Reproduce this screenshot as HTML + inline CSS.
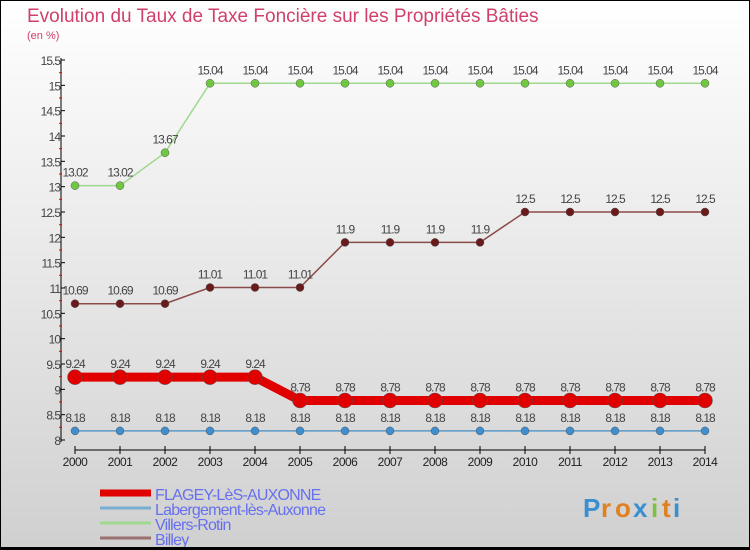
<!DOCTYPE html>
<html><head><meta charset="utf-8"><style>
body{margin:0}
#c{width:750px;height:550px;position:relative;background:linear-gradient(#fff,#d0d0d0);box-sizing:border-box;border:1px solid #000;border-bottom:3px solid #000;font-family:"Liberation Sans",sans-serif;overflow:hidden}
</style></head><body>
<div id="c">
<svg id="s" width="750" height="550" style="position:absolute;left:-1px;top:-1px"></svg>
</div>
<script>
const years=[2000,2001,2002,2003,2004,2005,2006,2007,2008,2009,2010,2011,2012,2013,2014];
const flagey=[9.24,9.24,9.24,9.24,9.24,8.78,8.78,8.78,8.78,8.78,8.78,8.78,8.78,8.78,8.78];
const labergement=[8.18,8.18,8.18,8.18,8.18,8.18,8.18,8.18,8.18,8.18,8.18,8.18,8.18,8.18,8.18];
const villers=[13.02,13.02,13.67,15.04,15.04,15.04,15.04,15.04,15.04,15.04,15.04,15.04,15.04,15.04,15.04];
const billey=[10.69,10.69,10.69,11.01,11.01,11.01,11.9,11.9,11.9,11.9,12.5,12.5,12.5,12.5,12.5];
const yTicks=[8,8.5,9,9.5,10,10.5,11,11.5,12,12.5,13,13.5,14,14.5,15,15.5];
const seriesNames=["FLAGEY-LèS-AUXONNE","Labergement-lès-Auxonne","Villers-Rotin","Billey"];
const NS="http://www.w3.org/2000/svg",s=document.getElementById('s');
const X=i=>75+i*45, Y=v=>440-(v-8)*50.667;
function el(t,a,txt){const e=document.createElementNS(NS,t);for(const k in a)e.setAttribute(k,a[k]);if(txt!=null)e.textContent=txt;s.appendChild(e);return e;}
let e;
e=el('text',{x:27,y:22,'font-size':19,fill:'#d0406a'},'Evolution du Taux de Taxe Foncière sur les Propriétés Bâties');


e=el('text',{x:27,y:39,'font-size':11,fill:'#d0406a'},'(en %)');


e=el('line',{x1:61,y1:58,x2:61,y2:442,stroke:'#000'});


yTicks.forEach((v,k)=>{
 const l=el('line',{x1:61,y1:Y(v),x2:65,y2:Y(v),stroke:'#000'});
 
 
 if(k<yTicks.length-1){
 const m=el('line',{x1:59,y1:Y(v+0.25),x2:62,y2:Y(v+0.25),stroke:'#e00'});
 
 
 }
 const t=el('text',{x:60,y:Y(v)+5,'font-size':12,'text-anchor':'end',fill:'#444','letter-spacing':'-1'},String(v));
 
 
});
e=el('line',{x1:75,y1:450,x2:705,y2:450,stroke:'#000'});


years.forEach((y,i)=>{
 const l=el('line',{x1:X(i),y1:446,x2:X(i),y2:454,stroke:'#000'});
 
 
 const t=el('text',{x:X(i),y:466,'font-size':12,'text-anchor':'middle',fill:'#222','letter-spacing':'-0.5'},String(y));
 
 
});
function series(d,col,w,r,dot,name){
 const p=el('polyline',{points:d.map((v,i)=>X(i)+','+Y(v)).join(' '),fill:'none',stroke:col,'stroke-width':w});
 
 
 d.forEach((v,i)=>{
  const c=el('circle',{cx:X(i),cy:Y(v),r:r,fill:dot,stroke:'#555','stroke-width':0.5});
  
  
  const t=el('text',{x:X(i),y:Y(v)-9,'font-size':12,'text-anchor':'middle',fill:'#444','letter-spacing':'-1'},String(v));
  
  
 });
}
series(labergement,'#5a9ac8',1.5,4,'#3f8fd0','labergement');
series(villers,'#a0d890',1.5,4,'#70c840','villers');
series(billey,'#8b4a4a',1.5,4,'#6a1a1a','billey');
series(flagey,'#e00000',9,7.5,'#e00000','flagey');
const lc=['#e00000','#7aaed0','#a0d890','#9a7070'],lw=[7,3,3,3];
seriesNames.forEach((n,i)=>{
 const y=493+i*15;
 const l=el('line',{x1:100,y1:y,x2:151,y2:y,stroke:lc[i],'stroke-width':lw[i]});
 
 
 const t=el('text',{x:155,y:y+7,'font-size':16,fill:'#6670ee','letter-spacing':'-0.8'},n);
 
 
});
const logo=['P','r','o','x','i','t','i'],lcol=['#3a8fd0','#e08020','#e08020','#3a8fd0','#80c040','#e08020','#3a8fd0'];
let lx=583;
logo.forEach((c,i)=>{
 const t=el('text',{x:lx,y:517,'font-size':26,'font-weight':'bold',fill:lcol[i]},c);
 
 
 lx+=(c==='i'||c==='t'?11:c==='r'?14:18);
});
</script>
</body></html>
